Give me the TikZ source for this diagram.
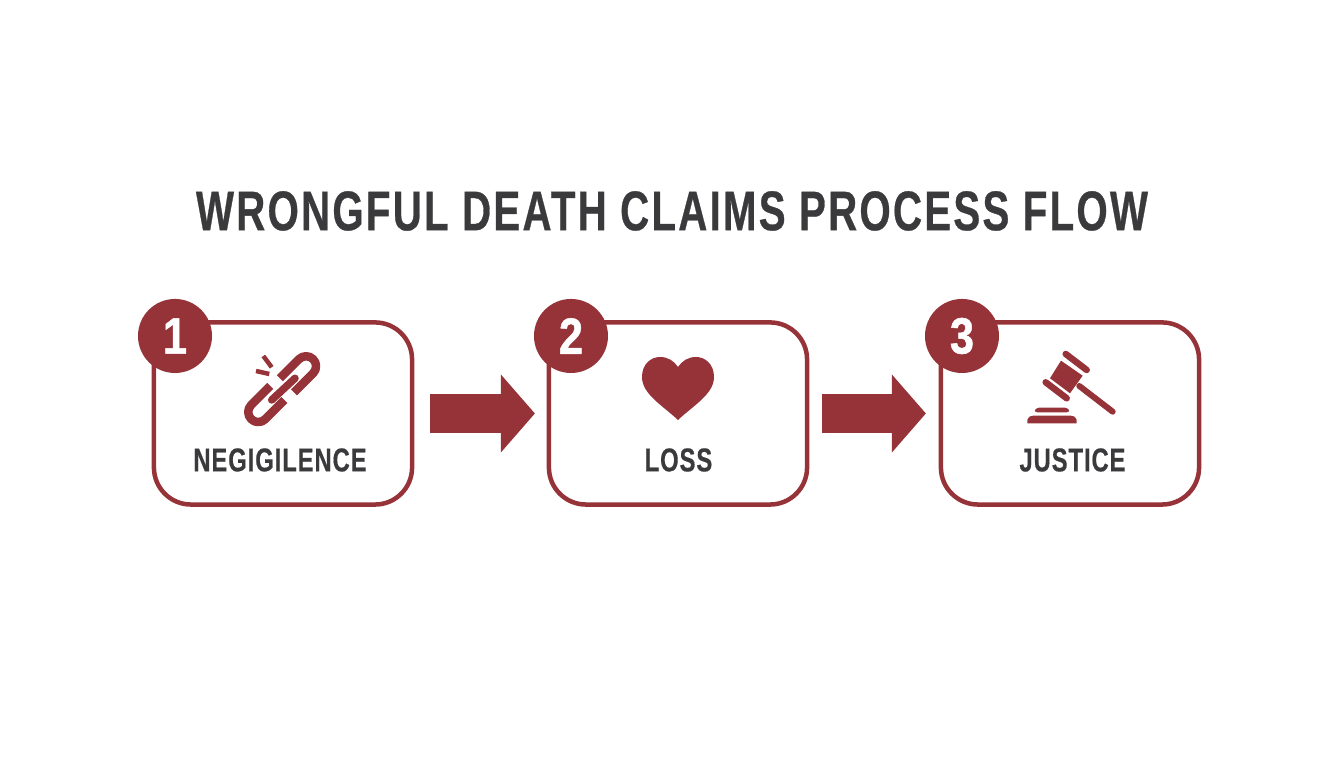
\documentclass[tikz,border=0pt]{standalone}
\usepackage{fontspec}
\setmainfont{Liberation Sans}
\newfontfamily\titlefont[FakeStretch=0.72,LetterSpace=4,FakeBold=0.5]{Liberation Sans Bold}
\newfontfamily\labelfont[FakeStretch=0.72,LetterSpace=2.8,FakeBold=0.4]{Liberation Sans Bold}
\newfontfamily\digitfont[FakeStretch=0.85,FakeBold=1]{Liberation Sans Bold}
\usetikzlibrary{arrows.meta}
\definecolor{claimred}{HTML}{963338}
\definecolor{claimtext}{HTML}{3A3A3C}
\tikzset{
	stepbox/.style={draw=claimred,line width=.045cm,rounded corners=.37cm,minimum width=2.58cm,minimum height=1.82cm,inner sep=0pt},
	badge/.style={circle,fill=claimred,text=white,minimum size=.74cm,inner sep=0pt,font=\digitfont\fontsize{14.5}{16}\selectfont},
	steplabel/.style={text=claimtext,inner sep=0pt,font=\labelfont\fontsize{9.4}{11}\selectfont},
	flowarrow/.style={draw=claimred,line width=.385cm,-{Triangle[length=.34cm,width=.76cm,fill=claimred]}},
	iconline/.style={draw=claimred,line width=.085cm,line cap=round}
}
\begin{document}
\begin{tikzpicture}[x=.01cm,y=-.01cm,line join=round]
	\useasboundingbox (0,0) rectangle (1344,768);
	\node[text=claimtext,inner sep=0pt,font=\titlefont\fontsize{15.9}{18}\selectfont] (title) at (672,211) {WRONGFUL DEATH CLAIMS PROCESS FLOW};
	% boxes
	\node[stepbox] (box1) at (283,413.5) {};
	\node[stepbox] (box2) at (678,413.5) {};
	\node[stepbox] (box3) at (1070,413.5) {};
	\node[badge] (badge1) at (175,336) {1};
	\node[badge] (badge2) at (571,336) {2};
	\node[badge] (badge3) at (962,336) {3};
	\node[steplabel] (label1) at (280,460) {NEGIGILENCE};
	\node[steplabel] (label2) at (678.5,460) {LOSS};
	\node[steplabel] (label3) at (1072.5,460) {JUSTICE};
	% arrows
	\draw[flowarrow,shorten <=.16cm,shorten >=.1175cm] (box1) -- (box2);
	\draw[flowarrow,shorten <=.1275cm,shorten >=.1275cm] (box2) -- (box3);
	% broken link
	\begin{scope}[shift={(299,373.3)},rotate=45]
		\draw[iconline,line cap=butt] (-17,-10)--(10,-10) arc[start angle=-90,end angle=90,radius=10]--(-17,10);
	\end{scope}
	\begin{scope}[shift={(265.3,405)},rotate=45]
		\draw[iconline,line cap=butt] (17,-10)--(-10,-10) arc[start angle=270,end angle=90,radius=10]--(17,10);
	\end{scope}
	\draw[iconline,line width=.075cm] (271.7,400)--(295,378.3);
	\draw[iconline,line width=.045cm,line cap=butt] (263.3,356)--(271.7,367.3);
	\draw[iconline,line width=.045cm,line cap=butt] (256,371)--(269.3,374);
	% heart
	\fill[claimred] (678,420) .. controls (662,405) and (642,394) .. (642,377)
		.. controls (642,364) and (651,357) .. (660,357)
		.. controls (668,357) and (674,361) .. (678,367)
		.. controls (682,361) and (688,357) .. (696,357)
		.. controls (705,357) and (714,364) .. (714,377)
		.. controls (714,394) and (694,405) .. (678,420) -- cycle;
	% gavel
	\fill[claimred] (1061,360.7)--(1082.7,375.7)--(1070,393.3)--(1050,378.3)--cycle;
	\draw[iconline,line width=.065cm] (1065.7,354)--(1086.7,370);
	\draw[iconline,line width=.065cm] (1045.7,382.3)--(1066.7,398.3);
	\draw[iconline,line width=.06cm] (1079.3,386)--(1112.7,411.7);
	\fill[claimred,rounded corners=.03cm] (1034,412.3)--(1036,407.7)--(1068,407.7)--(1070,412.3)--cycle;
	\fill[claimred] (1027.3,423.3)--(1027.3,420) .. controls (1028,417) and (1030,415.7) .. (1033,415.7)--(1071,415.7) .. controls (1074,415.7) and (1076,417) .. (1076.7,420)--(1076.7,423.3)--cycle;
\end{tikzpicture}
\end{document}
